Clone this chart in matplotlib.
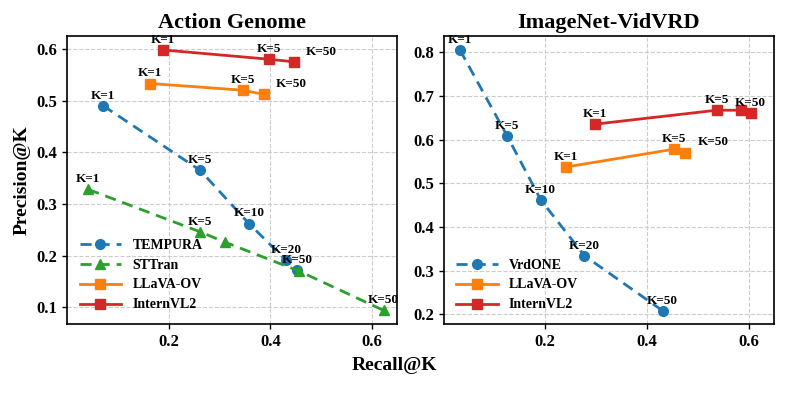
import matplotlib
matplotlib.use("Agg")
import matplotlib.pyplot as plt

plt.rcParams['font.family'] = ['Liberation Serif', 'DejaVu Serif']
plt.rcParams['font.weight'] = 'bold'

# ---- Action Genome ----
ag_tempura_r = [0.071, 0.262, 0.358, 0.431, 0.452]
ag_tempura_p = [0.490, 0.365, 0.262, 0.191, 0.172]
ag_tempura_k = ["K=1", "K=5", "K=10", "K=20", "K=50"]

ag_sttran_r = [0.042, 0.262, 0.311, 0.457, 0.623]
ag_sttran_p = [0.328, 0.246, 0.226, 0.170, 0.094]
ag_sttran_k = ["K=1", "K=5", "", "", "K=50"]

ag_llava_r = [0.164, 0.346, 0.387]
ag_llava_p = [0.533, 0.520, 0.512]
ag_llava_k = ["K=1", "K=5", "K=50"]

ag_intern_r = [0.188, 0.397, 0.446]
ag_intern_p = [0.598, 0.580, 0.575]
ag_intern_k = ["K=1", "K=5", "K=50"]

# ---- ImageNet-VidVRD ----
vv_vrdone_r = [0.032, 0.125, 0.191, 0.277, 0.431]
vv_vrdone_p = [0.805, 0.608, 0.462, 0.334, 0.208]
vv_vrdone_k = ["K=1", "K=5", "K=10", "K=20", "K=50"]

vv_llava_r = [0.240, 0.454, 0.475]
vv_llava_p = [0.537, 0.578, 0.570]
vv_llava_k = ["K=1", "K=5", "K=50"]

vv_intern_r = [0.297, 0.537, 0.586, 0.604]
vv_intern_p = [0.635, 0.667, 0.667, 0.660]
vv_intern_k = ["K=1", "K=5", "", "K=50"]

BLUE, GREEN, ORANGE, RED = "#1f77b4", "#2ca02c", "#ff7f0e", "#d62728"

fig, (ax1, ax2) = plt.subplots(1, 2, figsize=(7.89, 3.95), dpi=100)
fig.subplots_adjust(left=0.085, right=0.981, top=0.909, bottom=0.180, wspace=0.14)


def series(ax, r, p, labels, color, marker, ls, name, far_offset=None):
    ax.plot(r, p, linestyle=ls, marker=marker, color=color, lw=2, ms=7, label=name,
            dashes=(4, 2.5) if ls == '--' else (None, None))
    for i, (x, y, lab) in enumerate(zip(r, p, labels)):
        if not lab:
            continue
        dx = 0
        if far_offset is not None and i == len(r) - 1:
            dx = far_offset
        ax.annotate(lab, (x, y), xytext=(dx, 3), textcoords='offset points',
                    ha='center', va='bottom', fontsize=9.5, fontweight='bold')


def style(ax, title):
    ax.set_title(title, fontsize=16, fontweight='bold')
    ax.grid(True, linestyle='--', color='#cccccc', lw=0.8)
    ax.set_axisbelow(True)
    ax.set_xlim(0.0, 0.65)
    ax.set_xticks([0.2, 0.4, 0.6])
    for sp in ax.spines.values():
        sp.set_linewidth(1.2)
    ax.tick_params(labelsize=12, width=1.0)
    for t in ax.get_xticklabels() + ax.get_yticklabels():
        t.set_fontweight('bold')
    ax.legend(loc='lower left', frameon=False, handlelength=3,
              prop={'weight': 'bold', 'size': 10})


series(ax1, ag_tempura_r, ag_tempura_p, ag_tempura_k, BLUE, 'o', '--', 'TEMPURA')
series(ax1, ag_sttran_r, ag_sttran_p, ag_sttran_k, GREEN, '^', '--', 'STTran')
series(ax1, ag_llava_r, ag_llava_p, ag_llava_k, ORANGE, 's', '-', 'LLaVA-OV', far_offset=20)
series(ax1, ag_intern_r, ag_intern_p, ag_intern_k, RED, 's', '-', 'InternVL2', far_offset=20)
ax1.set_ylim(0.068, 0.625)
ax1.set_yticks([0.1, 0.2, 0.3, 0.4, 0.5, 0.6])
style(ax1, 'Action Genome')
ax1.set_ylabel('Precision@K', fontsize=14, fontweight='bold')

series(ax2, vv_vrdone_r, vv_vrdone_p, vv_vrdone_k, BLUE, 'o', '--', 'VrdONE')
series(ax2, vv_llava_r, vv_llava_p, vv_llava_k, ORANGE, 's', '-', 'LLaVA-OV', far_offset=20)
series(ax2, vv_intern_r, vv_intern_p, vv_intern_k, RED, 's', '-', 'InternVL2')
ax2.set_ylim(0.178, 0.837)
ax2.set_yticks([0.2, 0.3, 0.4, 0.5, 0.6, 0.7, 0.8])
style(ax2, 'ImageNet-VidVRD')

fig.text(0.5, 0.075, 'Recall@K', ha='center', va='center', fontsize=14, fontweight='bold')

fig.savefig('out.png', dpi=100)
